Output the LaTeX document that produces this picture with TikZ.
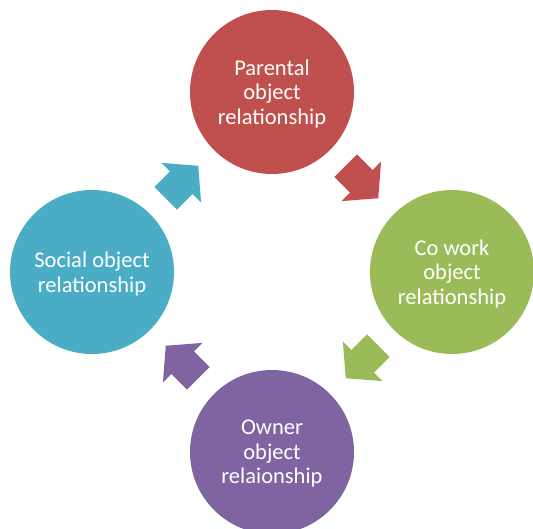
\documentclass[tikz,border=0pt]{standalone}
\usepackage{fontspec}
\setmainfont{Carlito}
\usetikzlibrary{calc}

\definecolor{cycred}{RGB}{192,80,77}
\definecolor{cycgreen}{RGB}{155,187,89}
\definecolor{cycpurple}{RGB}{128,100,162}
\definecolor{cycblue}{RGB}{75,172,198}

\tikzset{
  stage/.style={circle, draw=none, minimum size=164pt, inner sep=0pt},
  stagetext/.style={text=white, align=center, inner sep=0pt, yshift=-2pt,
    font=\fontsize{22.5}{24.5}\selectfont},
  cyclearrow/.pic={
    \path[pic actions] (-23,-16) -- (-1,-16) -- (-1,-28) -- (23,0)
      -- (-1,28) -- (-1,16) -- (-23,16) -- cycle;
  }
}

\begin{document}
\begin{tikzpicture}[x=1pt,y=1pt]
  \useasboundingbox (0,0) rectangle (533,528);
  \clip (0,0) rectangle (533,528);

  % four stages around the cycle
  \node[stage, fill=cycred, label={[stagetext]center:Parental\\object\\relationship}]
    (parental) at (272,436) {};
  \node[stage, fill=cycgreen, label={[stagetext]center:Co work\\object\\relationship}]
    (cowork) at (452,256) {};
  \node[stage, fill=cycpurple, label={[stagetext]center:Owner\\object\\relaionship}]
    (owner) at (272,76) {};
  \node[stage, fill=cycblue, label={[stagetext]center:Social object\\relationship}]
    (social) at (92,256) {};

  % block arrows between neighbouring stages, running clockwise
  \pic[fill=cycred, rotate=-45]     at ($(parental)!0.5!(cowork)$) {cyclearrow};
  \pic[fill=cycgreen, rotate=-135]  at ($(cowork)!0.5!(owner)$)    {cyclearrow};
  \pic[fill=cycpurple, rotate=135]  at ($(owner)!0.5!(social)$)    {cyclearrow};
  \pic[fill=cycblue, rotate=45]     at ($(social)!0.5!(parental)$) {cyclearrow};
\end{tikzpicture}
\end{document}
